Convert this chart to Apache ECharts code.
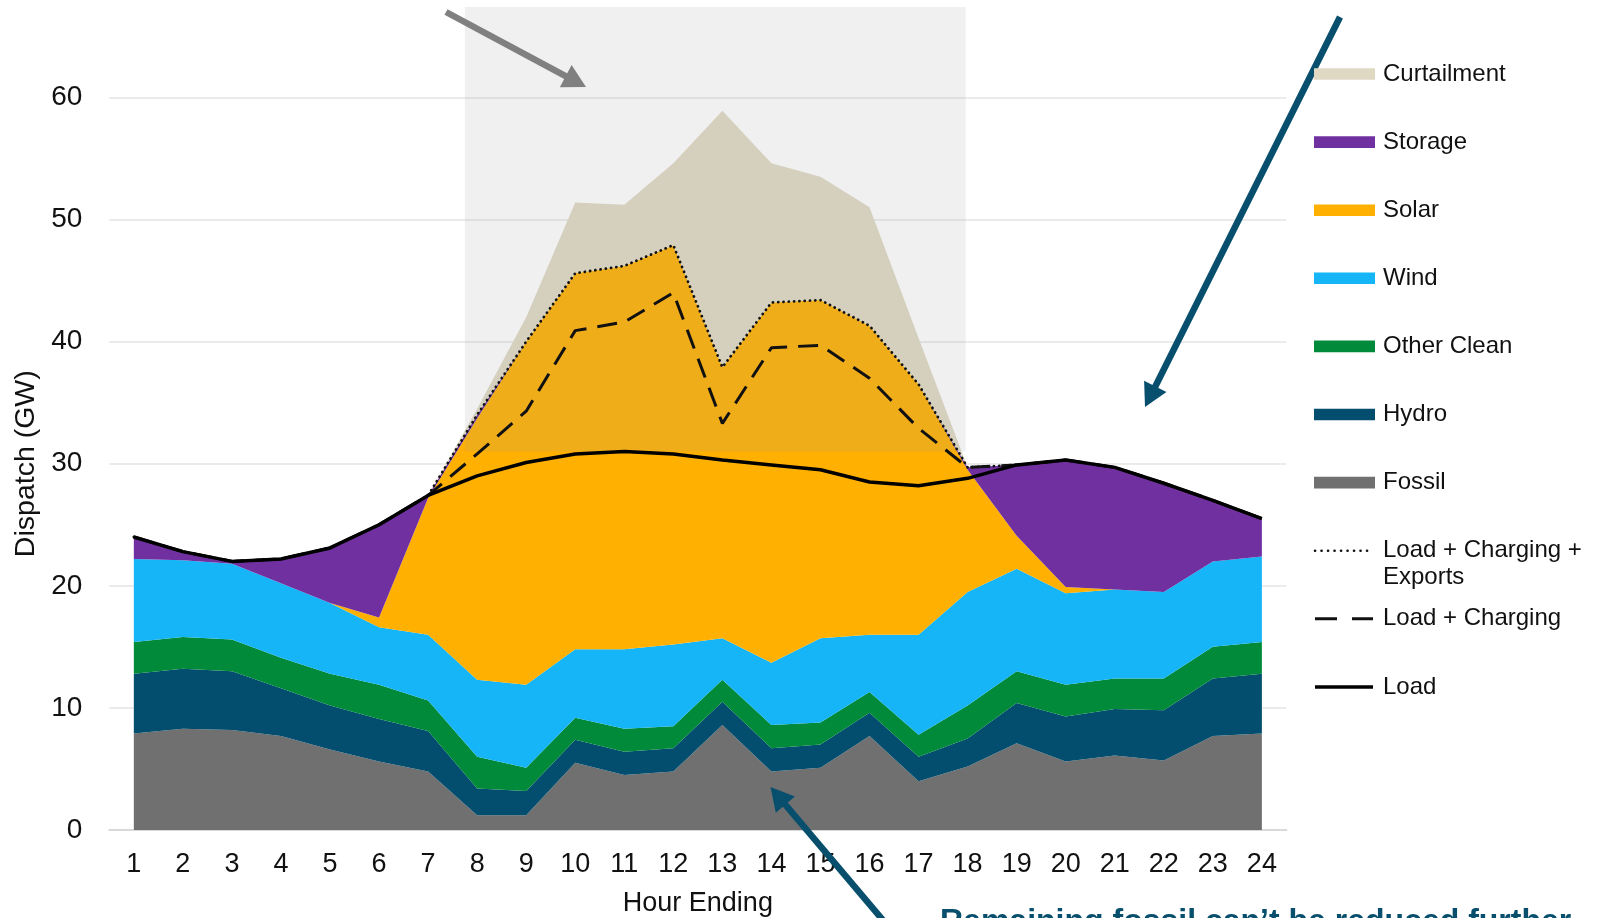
<!DOCTYPE html>
<html>
<head>
<meta charset="utf-8">
<script src="https://cdn.jsdelivr.net/npm/echarts@6/dist/echarts.min.js"></script>
<style>html,body{margin:0;padding:0;background:#fff}#c{width:1606px;height:918px}</style>
</head>
<body>
<div id="c"></div>
<script>
// ---------- data (GW per hour) ----------
const hours = ['1','2','3','4','5','6','7','8','9','10','11','12','13','14','15','16','17','18','19','20','21','22','23','24'];
const fossil      = [7.9, 8.3, 8.2, 7.7, 6.6, 5.6, 4.8, 1.2, 1.2, 5.5, 4.5, 4.8, 8.6, 4.8, 5.1, 7.7, 4.0, 5.2, 7.1, 5.6, 6.1, 5.7, 7.7, 7.9];
const hydro       = [4.9, 4.9, 4.8, 3.9, 3.6, 3.5, 3.3, 2.2, 2.0, 1.9, 1.9, 1.9, 1.9, 1.9, 1.9, 1.9, 2.0, 2.3, 3.3, 3.7, 3.8, 4.1, 4.7, 4.9];
const otherClean  = [2.6, 2.6, 2.6, 2.5, 2.6, 2.8, 2.5, 2.6, 1.9, 1.8, 1.9, 1.8, 1.8, 1.9, 1.8, 1.7, 1.8, 2.7, 2.6, 2.6, 2.5, 2.6, 2.6, 2.6];
const wind        = [6.8, 6.3, 6.2, 6.1, 5.8, 4.7, 5.4, 6.3, 6.8, 5.6, 6.5, 6.7, 3.4, 5.1, 6.9, 4.7, 8.2, 9.3, 8.4, 7.5, 7.3, 7.1, 7.0, 7.0];
const solar       = [0, 0, 0, 0, 0, 0.8, 11.2, 21.4, 28.1, 30.8, 31.4, 32.7, 22.2, 29.5, 27.7, 25.3, 20.5, 10.0, 2.7, 0.5, 0, 0, 0, 0];
const storage     = [1.8, 0.7, 0.2, 2.0, 4.5, 7.6, 0.2, 0.3, 0, 0, 0, 0, 0, 0, 0, 0, 0, 0.2, 5.8, 10.4, 10.0, 8.9, 5.0, 3.1];
const curtailment = [0, 0, 0, 0, 0, 0, 0, 0.5, 2.0, 5.8, 5.0, 6.7, 21.0, 11.4, 10.1, 9.7, 3.8, 0, 0, 0, 0, 0, 0, 0];
const load            = [24.0, 22.8, 22.0, 22.2, 23.1, 25.0, 27.4, 29.0, 30.1, 30.8, 31.0, 30.8, 30.3, 29.9, 29.5, 28.5, 28.2, 28.8, 29.9, 30.3, 29.7, 28.4, 27.0, 25.5];
const loadCharging    = [24.0, 22.8, 22.0, 22.2, 23.1, 25.0, 27.4, 30.8, 34.3, 40.9, 41.6, 44.0, 33.3, 39.5, 39.7, 37.0, 32.9, 29.7, 29.9, 30.3, 29.7, 28.4, 27.0, 25.5];
const loadChargingExp = [24.0, 22.8, 22.0, 22.2, 23.1, 25.0, 27.4, 34.0, 40.0, 45.6, 46.2, 47.9, 37.9, 43.2, 43.4, 41.3, 36.5, 29.7, 29.9, 30.3, 29.7, 28.4, 27.0, 25.5];
const yTicks = [0, 10, 20, 30, 40, 50, 60];
// highlighted window: [hour from, hour to, GW from, GW to]
const highlightBox = [7.75, 17.96, 31.0, 67.4];

const areaNames  = ['Fossil', 'Hydro', 'Other Clean', 'Wind', 'Solar', 'Storage', 'Curtailment'];
const areaData   = [fossil, hydro, otherClean, wind, solar, storage, curtailment];
const areaColors = ['#707070', '#034E6E', '#008A3A', '#16B5F7', '#FFB000', '#7030A0', '#DFD9C4'];
const lineNames  = ['Load + Charging + Exports', 'Load + Charging', 'Load'];
const lineData   = [loadChargingExp, loadCharging, load];
const lineStyles = [
  {color: '#111', width: 2.8, type: [0.1, 5.2], cap: 'round'},
  {color: '#111', width: 3, type: [20, 11]},
  {color: '#000', width: 3.5, type: 'solid'}
];

const FONT = '"Liberation Sans", Arial, sans-serif';
const TEAL = '#084F6E';

const chart = echarts.init(document.getElementById('c'), null, {renderer: 'canvas'});

const series = [];
areaNames.forEach((n, i) => {
  series.push({
    name: n, type: 'line', stack: 'gen', data: areaData[i],
    symbol: 'none', silent: true, z: 2,
    lineStyle: {width: 0, color: areaColors[i]},
    itemStyle: {color: areaColors[i]},
    areaStyle: {color: areaColors[i], opacity: 1}
  });
});
series.push({
  name: 'highlight', type: 'custom', xAxisIndex: 1, yAxisIndex: 0,
  data: [highlightBox], encode: {x: [0, 1], y: [2, 3]}, clip: false, z: 3, silent: true,
  renderItem: function (params, api) {
    const p0 = api.coord([api.value(0), api.value(3)]);
    const p1 = api.coord([api.value(1), api.value(2)]);
    return {type: 'rect', shape: {x: p0[0], y: p0[1], width: p1[0] - p0[0], height: p1[1] - p0[1]},
            style: {fill: 'rgba(160,160,160,0.16)'}};
  }
});
lineNames.forEach((n, i) => {
  series.push({
    name: n, type: 'line', data: lineData[i], symbol: 'none', silent: true, z: 5,
    lineStyle: lineStyles[i], itemStyle: {color: lineStyles[i].color}
  });
});

// ---------- annotation graphics ----------
function arrow(x0, y0, x1, y1, w, hl, hw, color) {
  const dx = x1 - x0, dy = y1 - y0, L = Math.hypot(dx, dy), ux = dx / L, uy = dy / L;
  const bx = x1 - ux * hl, by = y1 - uy * hl, px = -uy, py = ux;
  return [
    {type: 'line', z: 20, shape: {x1: x0, y1: y0, x2: bx + ux * 2, y2: by + uy * 2}, style: {stroke: color, lineWidth: w}},
    {type: 'polygon', z: 20, shape: {points: [[x1, y1], [bx + px * hw / 2, by + py * hw / 2], [bx - px * hw / 2, by - py * hw / 2]]}, style: {fill: color}}
  ];
}

const graphics = [];
graphics.push(...arrow(446, 12, 586, 87, 6.5, 23, 25, '#808080'));
graphics.push(...arrow(1340, 17, 1145, 407, 6.5, 23, 25, TEAL));
graphics.push(...arrow(887, 925, 770.5, 787, 6.5, 23, 25, TEAL));
graphics.push({type: 'text', z: 20, style: {
  text: 'Remaining fossil can\u2019t be reduced further', x: 940, y: 906,
  fill: TEAL, font: 'bold 32px ' + FONT, fontSize: 32, fontWeight: 'bold', fontFamily: FONT,
  align: 'left', textAlign: 'left', verticalAlign: 'top', textVerticalAlign: 'top'}});

// legend
const legX = 1314, legW = 61, legTextX = 1383, legY0 = 74, legStep = 68.1;
const legendOrder = areaNames.slice().reverse();
legendOrder.forEach((n, k) => {
  const col = areaColors[areaNames.indexOf(n)];
  const cy = legY0 + k * legStep;
  graphics.push({type: 'rect', z: 20, shape: {x: legX, y: cy - 5.8, width: legW, height: 11.6}, style: {fill: col}});
  graphics.push({type: 'text', z: 20, style: {text: n, x: legTextX, y: cy, fill: '#111', fontSize: 24, fontFamily: FONT,
    font: '24px ' + FONT, align: 'left', textAlign: 'left', verticalAlign: 'middle', textVerticalAlign: 'middle'}});
});
const lineLegendText = ['Load + Charging +\nExports', 'Load + Charging', 'Load'];
lineNames.forEach((n, j) => {
  const k = legendOrder.length + j;
  const cy = legY0 + k * legStep;
  const st = lineStyles[j];
  graphics.push({type: 'line', z: 20, shape: {x1: legX + 1, y1: cy, x2: legX + 59, y2: cy},
    style: {stroke: st.color, lineWidth: j === 0 ? 2.6 : st.width, lineCap: j === 0 ? 'round' : 'butt',
      lineDash: j === 0 ? [0.1, 6.4] : (j === 1 ? [22, 15] : null)}});
  graphics.push({type: 'text', z: 20, style: {text: lineLegendText[j], x: legTextX, y: cy - 13.5, fill: '#111', fontSize: 24,
    fontFamily: FONT, font: '24px ' + FONT, lineHeight: 27, align: 'left', textAlign: 'left', verticalAlign: 'top', textVerticalAlign: 'top'}});
});

const option = {
  animation: false,
  backgroundColor: '#ffffff',
  textStyle: {fontFamily: FONT},
  grid: {left: 109.3, right: 319.6, top: 97.4, bottom: 88, containLabel: false, outerBoundsMode: 'none'},
  xAxis: [
    {
      type: 'category', data: hours, boundaryGap: true,
      axisLine: {lineStyle: {color: '#D9D9D9', width: 2}},
      axisTick: {length: 8, lineStyle: {color: '#D9D9D9', width: 2}},
      axisLabel: {fontSize: 27, color: '#111', margin: 21, fontFamily: FONT},
      splitLine: {show: false},
      name: 'Hour Ending', nameLocation: 'middle', nameGap: 60,
      nameTextStyle: {fontSize: 27, color: '#111', fontFamily: FONT}
    },
    {type: 'value', min: 0.5, max: 24.5, show: false}
  ],
  yAxis: {
    type: 'value', min: yTicks[0], max: yTicks[yTicks.length - 1], interval: 10,
    axisLine: {show: false}, axisTick: {show: false},
    splitLine: {lineStyle: {color: '#EBEBEB', width: 2}},
    axisLabel: {fontSize: 28, color: '#111', margin: 27, fontFamily: FONT},
    name: 'Dispatch (GW)', nameLocation: 'middle', nameGap: 67,
    nameTextStyle: {fontSize: 28.5, color: '#111', fontFamily: FONT}
  },
  series: series,
  graphic: {elements: graphics}
};
chart.setOption(option);
</script>
</body>
</html>
